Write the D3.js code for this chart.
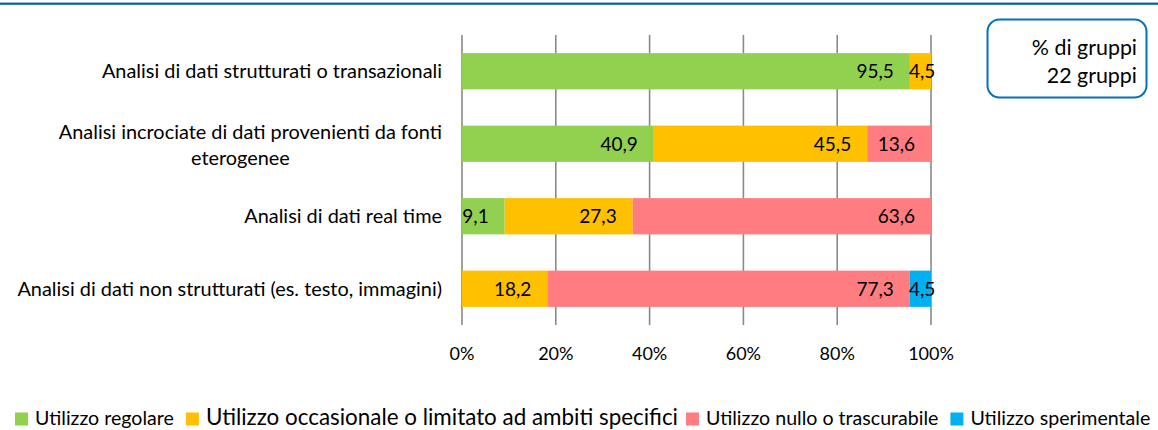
<!DOCTYPE html>
<html><head><meta charset="utf-8">
<script src="https://cdn.jsdelivr.net/npm/d3@7"></script>
<style>body{margin:0;background:#fff} text{font-family:Lato,"Open Sans",sans-serif;fill:#000}</style></head>
<body><svg id="c" width="1158" height="430"></svg>
<script>
// ---- data ----
const categories = [
  "Analisi di dati strutturati o transazionali",
  "Analisi incrociate di dati provenienti da fonti\neterogenee",
  "Analisi di dati real time",
  "Analisi di dati non strutturati (es. testo, immagini)"
];
const seriesNames = [
  "Utilizzo regolare",
  "Utilizzo occasionale o limitato ad ambiti specifici",
  "Utilizzo nullo o trascurabile",
  "Utilizzo sperimentale"
];
const regolare     = [95.5, 40.9, 9.1, 0];
const occasionale  = [4.5, 45.5, 27.3, 18.2];
const nullo        = [0, 13.6, 63.6, 77.3];
const sperimentale = [0, 0, 0, 4.5];
const tickValues = [0, 20, 40, 60, 80, 100];
const tickLabels = ["0%", "20%", "40%", "60%", "80%", "100%"];
const boxLines = ["% di gruppi", "22 gruppi"];
const colors = ["#92D050", "#FFC000", "#FF7C80", "#00B0F0"];

// ---- build ----
const svg = d3.select("#c");
const seriesValues = [regolare, occasionale, nullo, sperimentale];
const rows = categories.map((c, i) => {
  const r = {cat: c};
  seriesNames.forEach((s, j) => r[s] = seriesValues[j][i]);
  return r;
});
const stacked = d3.stack().keys(seriesNames)(rows);

const x = d3.scaleLinear().domain([0, 100]).range([462, 931]);
const y = d3.scaleBand().domain(categories).range([35, 325]).paddingInner(0.5).paddingOuter(0.25);
const fmt = d3.formatLocale({decimal: ",", thousands: ".", grouping: [3], currency: ["", "€"]}).format(".1f");

// top rule
svg.append("rect").attr("x", 0).attr("y", 2.6).attr("width", 1158).attr("height", 2.2).attr("fill", "#00609C");

// gridlines
svg.append("g").selectAll("line").data(tickValues).join("line")
  .attr("x1", d => x(d)).attr("x2", d => x(d))
  .attr("y1", 35).attr("y2", 325)
  .attr("stroke", "#8A8A8A").attr("stroke-width", 1.6);

// x tick labels
svg.append("g").selectAll("text").data(tickValues).join("text")
  .attr("x", d => x(d)).attr("y", 360)
  .attr("text-anchor", "middle").style("font-size", "18px")
  .text((d, i) => tickLabels[i]);

// bars
const groups = svg.append("g").selectAll("g").data(stacked).join("g")
  .attr("fill", (d, i) => colors[i]);
groups.selectAll("rect").data(d => d.filter(p => p[1] - p[0] > 0)).join("rect")
  .attr("x", d => x(d[0])).attr("width", d => x(d[1]) - x(d[0]))
  .attr("y", d => y(d.data.cat)).attr("height", y.bandwidth());

// data labels (inside end)
const labG = svg.append("g");
stacked.forEach(s => {
  s.forEach(p => {
    const v = p[1] - p[0];
    if (v <= 0) return;
    const t = labG.append("text")
      .attr("y", y(p.data.cat) + y.bandwidth() / 2 + 7)
      .style("font-size", "19px").text(fmt(v));
    const w = t.node().getComputedTextLength();
    let left = x(p[1]) - 16 - w;
    if (left < x(p[0])) left = x(p[0]) - 1;
    t.attr("x", left);
  });
});

// category labels
categories.forEach(c => {
  const lines = c.split("\n");
  const cy = y(c) + y.bandwidth() / 2;
  if (lines.length === 1) {
    svg.append("text").attr("x", 442).attr("y", cy + 7)
      .attr("text-anchor", "end").style("font-size", "19.9px").text(lines[0]);
  } else {
    const t1 = svg.append("text").attr("x", 442).attr("y", cy - 5)
      .attr("text-anchor", "end").style("font-size", "19.9px").text(lines[0]);
    const w1 = t1.node().getComputedTextLength();
    svg.append("text").attr("x", 442 - w1 / 2 - 10).attr("y", cy + 21.5)
      .attr("text-anchor", "middle").style("font-size", "19.9px").text(lines[1]);
  }
});

// info box
svg.append("rect").attr("x", 987.5).attr("y", 19.5).attr("width", 159).attr("height", 78)
  .attr("rx", 12).attr("fill", "#fff").attr("stroke", "#0070C0").attr("stroke-width", 2);
svg.append("g").selectAll("text").data(boxLines).join("text")
  .attr("x", 1137).attr("y", (d, i) => 55 + i * 27.5)
  .attr("text-anchor", "end").style("font-size", "21.4px").text(d => d);

// legend
const legendSizes = [19.6, 22.4, 19.6, 19.6];
let lx = 15;
seriesNames.forEach((s, i) => {
  svg.append("rect").attr("x", lx).attr("y", 412.5).attr("width", 13).attr("height", 13).attr("fill", colors[i]);
  const t = svg.append("text").attr("x", lx + 20).attr("y", 425)
    .style("font-size", legendSizes[i] + "px").text(s);
  lx = lx + 20 + t.node().getComputedTextLength() + (i === 1 ? 8 : 12);
});
</script></body></html>
